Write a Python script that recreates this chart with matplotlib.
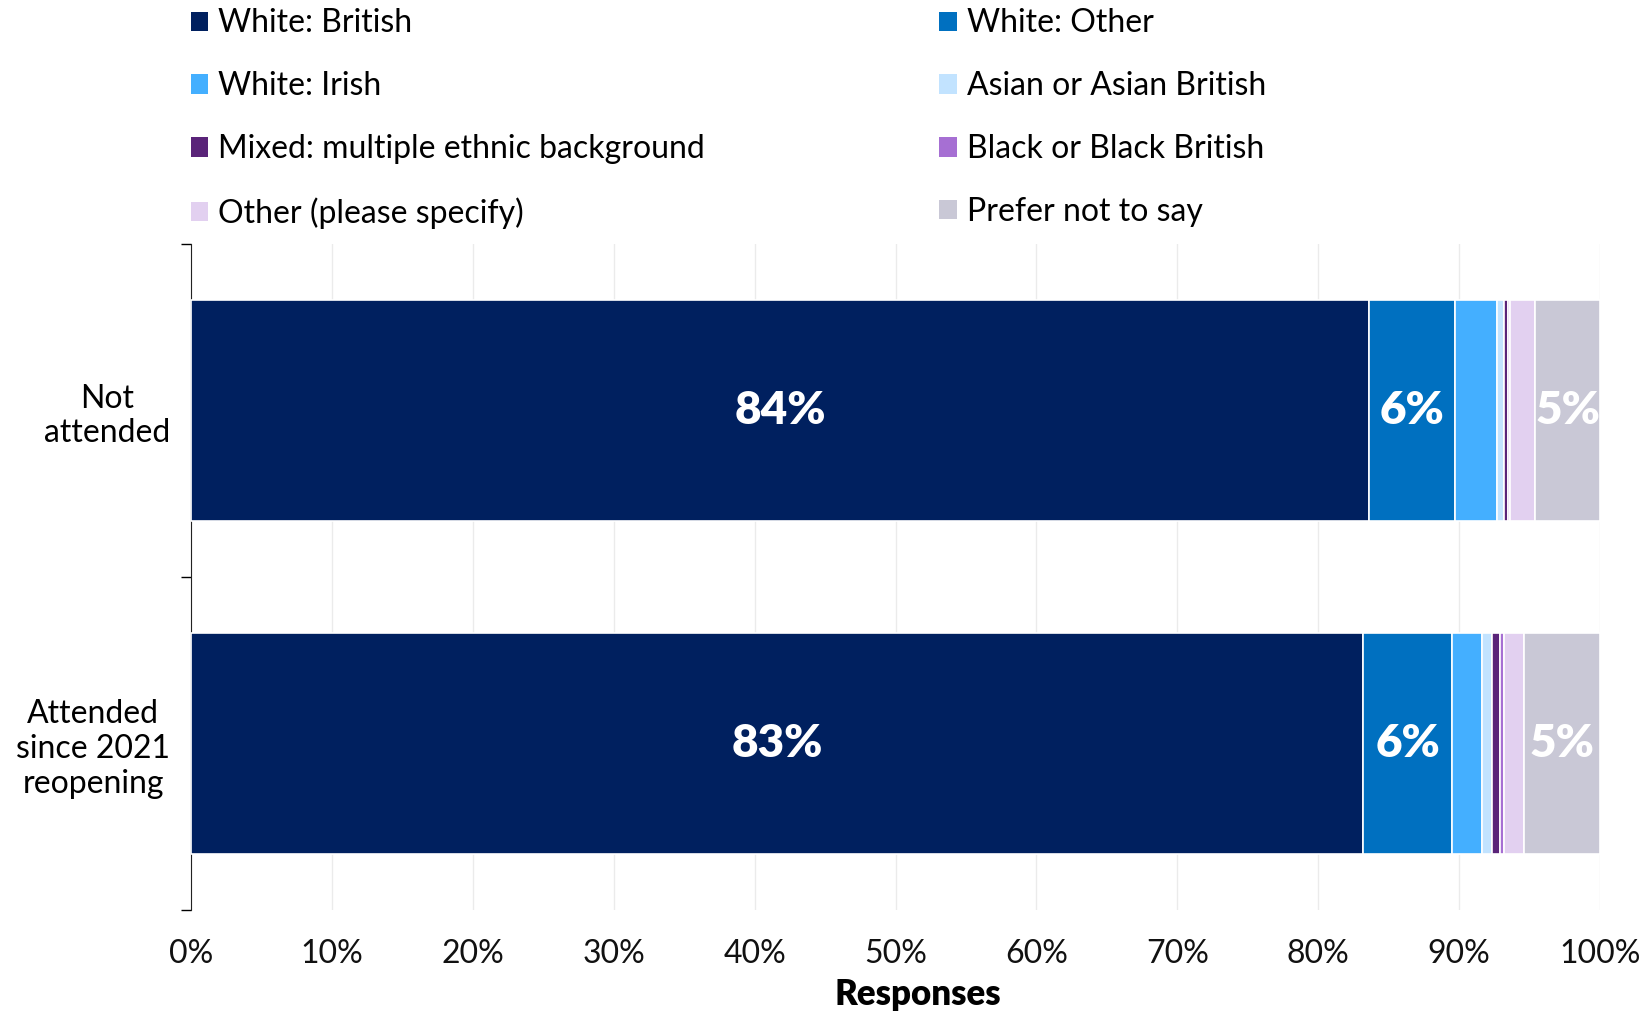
import matplotlib
matplotlib.use("Agg")
import matplotlib.pyplot as plt
from matplotlib.patches import Patch

plt.rcParams['font.family'] = ['Lato', 'DejaVu Sans']

# categories (top to bottom)
groups = ["Not\nattended", "Attended\nsince 2021\nreopening"]

# series names and values (% of responses)
series = ["White: British", "White: Other", "White: Irish", "Asian or Asian British",
          "Mixed: multiple ethnic background", "Black or Black British",
          "Other (please specify)", "Prefer not to say"]
not_attended = [83.6, 6.1, 3.0, 0.5, 0.3, 0.1, 1.8, 4.6]
attended = [83.2, 6.3, 2.1, 0.7, 0.6, 0.3, 1.4, 5.4]
colors = ["#00205F", "#0070C0", "#44AFFF", "#C2E3FF",
          "#5A2479", "#A66FD3", "#E2D0F0", "#C9C8D6"]

values = [not_attended, attended]

fig = plt.figure(figsize=(16.47, 10.15), dpi=100)
ax = fig.add_axes([191 / 1647, 105 / 1015, 1409 / 1647, 666 / 1015])

for i, row in enumerate(values):
    left = 0
    for j, v in enumerate(row):
        ax.barh(i, v, left=left, height=0.665, color=colors[j],
                edgecolor="white", linewidth=1.2, zorder=3)
        if v >= 4.5:
            ax.text(left + v / 2, i, f"{round(v):.0f}%", ha="center", va="center",
                    color="white", fontsize=33, fontweight="heavy", zorder=4)
        left += v

ax.set_xlim(0, 100)
ax.set_ylim(1.5, -0.5)
ax.set_xticks(range(0, 101, 10))
ax.set_xticklabels([f"{t}%" for t in range(0, 101, 10)], fontsize=23)
ax.set_yticks([0, 1])
ax.set_yticklabels(groups, fontsize=23, ha="right", multialignment="center")
ax.tick_params(axis="y", length=0, pad=15)
ax.set_yticks([-0.5, 0.5, 1.5], minor=True)
ax.tick_params(axis="y", which="minor", length=7, width=1)
ax.tick_params(axis="x", length=0, pad=21, colors="#111111")
ax.grid(axis="x", color="#EBEBEB", linewidth=1, zorder=0)
for s in ["top", "right", "bottom"]:
    ax.spines[s].set_visible(False)
ax.spines["left"].set_color("#222222")
ax.set_xlabel("Responses", fontsize=25, fontweight="heavy")
ax.xaxis.set_label_coords(0.516, -0.102)

# legend, row-major order across 2 columns
order = [0, 2, 4, 6, 1, 3, 5, 7]
handles = [Patch(facecolor=colors[k], edgecolor="none", label=series[k]) for k in order]
fig.legend(handles=handles, ncol=2, loc="upper left",
           bbox_to_anchor=(162 / 1647, 1.02), frameon=False, fontsize=23,
           handlelength=0.55, handleheight=0.55, handletextpad=0.3,
           labelspacing=1.03, columnspacing=7.35)

fig.savefig("out.png", dpi=100)
